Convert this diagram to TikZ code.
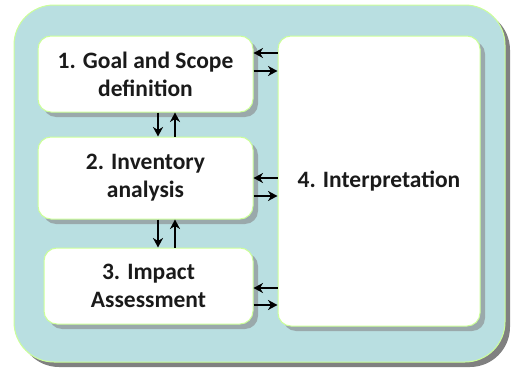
\documentclass[tikz,border=0pt]{standalone}
\usepackage{fontspec}
\setmainfont{Carlito}
\usetikzlibrary{shadows,arrows.meta}

\definecolor{framefill}{HTML}{B9DFE1}
\definecolor{rimgreen}{HTML}{CCFF99}
\definecolor{boxshade}{HTML}{9AA9AB}
\definecolor{frameshade}{HTML}{808080}
\definecolor{txtgray}{HTML}{1A1A1A}

\tikzset{
  phase/.style={draw=rimgreen, line width=1pt, fill=white, rounded corners=13pt,
    align=center, text=txtgray, font=\fontsize{23.5}{28}\selectfont\bfseries,
    drop shadow={shadow xshift=5pt, shadow yshift=-5pt, fill=boxshade, opacity=1}},
  arr/.style={-{Stealth[length=9.5pt, width=10pt, inset=3pt]}, line width=2.2pt, black}
}

\begin{document}
\begin{tikzpicture}[x=1pt, y=-1pt]
    \useasboundingbox (0,0) rectangle (512,372);

    % outer frame with its shadow
    \fill[frameshade, rounded corners=40pt] (19,10) rectangle (510,367);
    \filldraw[fill=framefill, draw=rimgreen, line width=1pt, rounded corners=40pt] (14,5) rectangle (505,362);

    % the four phases
    \node[phase, minimum width=215pt, minimum height=76pt] (goal) at (145.5,74) {1. Goal and Scope\\definition};
    \node[phase, minimum width=215pt, minimum height=82pt] (inv) at (145.5,178) {2. Inventory\\analysis};
    \node[phase, minimum width=209pt, minimum height=76pt] (impact) at (148.5,286) {3. Impact\\Assessment};
    \node[phase, minimum width=202pt, minimum height=290pt] (interp) at (379,181) {4. Interpretation};

    % arrows down and up between the phases
    \draw[arr] ([xshift=12.5pt]goal.south) -- ([xshift=12.5pt]goal.south |- inv.north);
    \draw[arr] ([xshift=29.5pt]inv.north) -- ([xshift=29.5pt]inv.north |- goal.south);
    \draw[arr] ([xshift=12.5pt]inv.south) -- ([xshift=12.5pt]inv.south |- impact.north);
    \draw[arr] ([xshift=29.5pt]inv.south |- impact.north) -- ([xshift=29.5pt]inv.south);

    % arrows to and from the interpretation
    \draw[arr] ([yshift=21pt]goal.east -| interp.west) -- ([yshift=21pt]goal.east);
    \draw[arr] ([yshift=3pt]goal.east) -- ([yshift=3pt]goal.east -| interp.west);
    \draw[arr] (inv.east -| interp.west) -- (inv.east);
    \draw[arr] ([yshift=-18pt]inv.east) -- ([yshift=-18pt]inv.east -| interp.west);
    \draw[arr] ([yshift=-2pt]impact.east -| interp.west) -- ([yshift=-2pt]impact.east);
    \draw[arr] ([yshift=-19pt]impact.east) -- ([yshift=-19pt]impact.east -| interp.west);
\end{tikzpicture}
\end{document}
